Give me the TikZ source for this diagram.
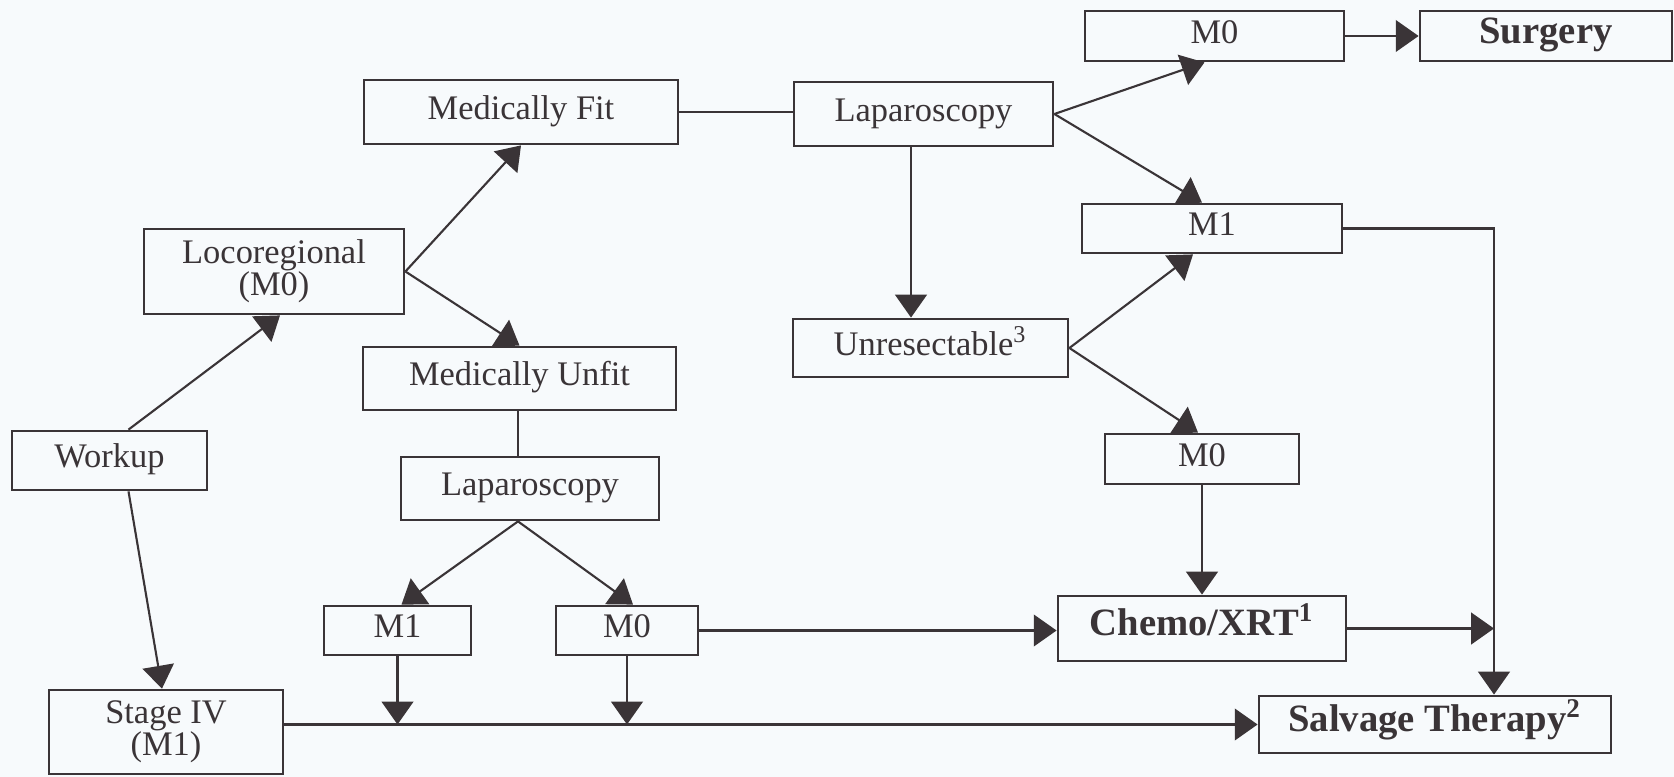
\documentclass[tikz,border=0pt]{standalone}
\usepackage{fontspec}
\setmainfont{Liberation Serif}
\usetikzlibrary{arrows.meta, calc}
\definecolor{scanink}{HTML}{3A3437}
\definecolor{scanpaper}{HTML}{F7FAFC}

\begin{document}
\begin{tikzpicture}[
      every node/.style={font=\fontsize{9.8}{9}\selectfont, text=scanink},
      stagebox/.style={draw=scanink, line width=0.8pt, inner sep=0pt, align=center},
      cell/.style={stagebox, text height=7pt, text depth=2.8pt},
      strong/.style={font=\fontsize{11}{12}\selectfont\bfseries},
      link/.style={draw=scanink, line width=0.6pt},
      >={Triangle[length=6.5pt,width=9pt]},
    ]
    \useasboundingbox (0,0) rectangle (16.74,-7.77);
    \fill[scanpaper] (0,0) rectangle (16.74,-7.77);

    % left branch
    \node[cell,     minimum width=1.95cm, minimum height=0.59cm] (workup) at (1.095,-4.605) {Workup};
    \node[stagebox, minimum width=2.60cm, minimum height=0.85cm] (loco)   at (2.74,-2.715)  {Locoregional\\(M0)};
    \node[stagebox, minimum width=2.34cm, minimum height=0.84cm] (stage)  at (1.66,-7.32)   {Stage IV\\(M1)};
    \node[cell,     minimum width=3.14cm, minimum height=0.64cm] (fit)    at (5.21,-1.12)   {Medically Fit};
    \node[cell,     minimum width=3.13cm, minimum height=0.63cm] (unfit)  at (5.195,-3.785) {Medically Unfit};
    \node[cell,     minimum width=2.58cm, minimum height=0.63cm] (lapB)   at (5.30,-4.885)  {Laparoscopy};
    \node[cell,     minimum width=1.47cm, minimum height=0.49cm] (m1B)    at (3.975,-6.305) {M1};
    \node[cell,     minimum width=1.42cm, minimum height=0.49cm] (m0B)    at (6.27,-6.305)  {M0};

    % right branch
    \node[cell, minimum width=2.59cm, minimum height=0.64cm] (lapT)   at (9.235,-1.14)  {Laparoscopy};
    \node[cell, minimum width=2.75cm, minimum height=0.58cm] (unres)  at (9.305,-3.48)  {Unresectable\textsuperscript{3}};
    \node[cell, minimum width=2.59cm, minimum height=0.50cm] (m0T)    at (12.145,-0.36) {M0};
    \node[cell, strong, minimum width=2.52cm, minimum height=0.50cm] (surg) at (15.46,-0.36) {Surgery};
    \node[cell, minimum width=2.60cm, minimum height=0.49cm] (m1T)    at (12.12,-2.285) {M1};
    \node[cell, minimum width=1.94cm, minimum height=0.50cm] (m0M)    at (12.02,-4.59)  {M0};
    \node[cell, strong, minimum width=2.88cm, minimum height=0.65cm] (chemo) at (12.02,-6.285) {Chemo/XRT\textsuperscript{1}};
    \node[cell, strong, minimum width=3.52cm, minimum height=0.57cm] (salv)  at (14.35,-7.245) {Salvage Therapy\textsuperscript{2}};

    \coordinate (rail) at (14.94,-2.285);
    \coordinate (drop) at ([xshift=-0.125cm]lapT.south);

    \draw[link,->] ([xshift=0.19cm]workup.north) -- ([xshift=0.06cm]loco.south);
    \draw[link,->] ([xshift=0.19cm]workup.south) -- ([xshift=-0.04cm]stage.north);
    \draw[link,->] (loco.east) -- (fit.south);
    \draw[link,->] (loco.east) -- (unfit.north);
    \draw[link] (fit.east) -- (fit.east -| lapT.west);
    \draw[link] ([xshift=-0.015cm]unfit.south) -- ([xshift=-0.12cm]lapB.north);
    \draw[link,->] ([xshift=-0.12cm]lapB.south) -- ([xshift=0.04cm]m1B.north);
    \draw[link,->] ([xshift=-0.12cm]lapB.south) -- ([xshift=0.06cm]m0B.north);
    \draw[link,->] (m1B.south) -- (m1B.south |- salv.west);
    \draw[link,->] (m0B.south) -- (m0B.south |- salv.west);
    \draw[link,->] (stage.east |- salv.west) -- (salv.west);
    \draw[link,->] (m0B.east) -- (m0B.east -| chemo.west);

    \draw[link,->] (lapT.east) -- ([xshift=-0.1cm]m0T.south);
    \draw[link,->] (lapT.east) -- ([xshift=-0.1cm]m1T.north);
    \draw[link,->] (m0T.east) -- (surg.west);
    \draw[link,->] (drop) -- (drop |- unres.north);
    \draw[link,->] (unres.east) -- ([xshift=-0.19cm]m1T.south);
    \draw[link,->] (unres.east) -- ([xshift=-0.04cm]m0M.north);
    \draw[link,->] (m0M.south) -- (chemo.north);
    \draw[link,->] (m1T.east) -- (rail) -- (rail |- salv.north);
    \draw[link,->] (chemo.east) -- (chemo.east -| rail);
\end{tikzpicture}
\end{document}
